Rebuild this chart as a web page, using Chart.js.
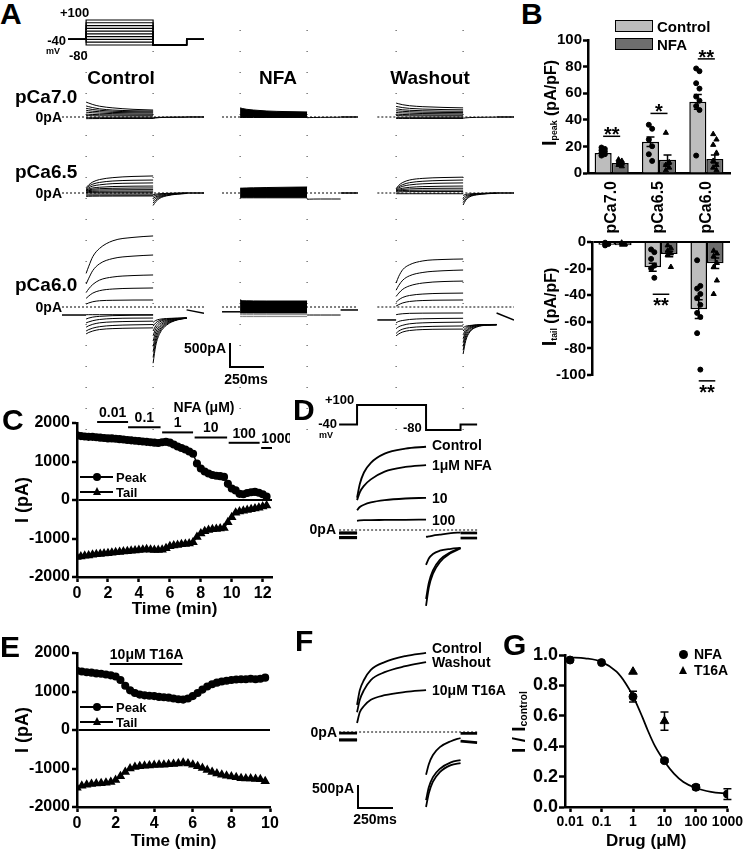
<!DOCTYPE html>
<html>
<head>
<meta charset="utf-8">
<title>NFA and T16A block of Ca-activated currents</title>
<script src="https://cdn.jsdelivr.net/npm/chart.js@4.4.1/dist/chart.umd.min.js"></script>
<style>
  html, body { margin: 0; padding: 0; background: #fff; }
  #fig { position: relative; width: 745px; height: 852px; overflow: hidden;
         font-family: "Liberation Sans", Arial, sans-serif; font-weight: bold; color: #000; }
  #fig canvas { position: absolute; }
  .t { position: absolute; white-space: nowrap; line-height: 1; }
  .ln { position: absolute; background: #000; }
  .box { position: absolute; box-sizing: border-box; border: 1.5px solid #000; }
  .dot { position: absolute; background: #000; border-radius: 50%; }
  .tri { position: absolute; width: 0; height: 0; border-left: 4.5px solid transparent;
         border-right: 4.5px solid transparent; border-bottom: 8px solid #000; }
  sub { font-size: 0.55em; vertical-align: -0.2em; }
</style>
</head>
<body>
<div id="fig"></div>
<script>
// ---------- panel A / D / F : protocol and current families ----------
const stepVoltages = [-80, -60, -40, -20, 0, 20, 40, 60, 80, 100]; // mV
const pulseT = [0, 20, 50, 100, 200, 350, 500];                    // ms
const tailT = [500, 520, 550, 600, 680, 750];
const postT = [750, 880];

// pCa 7.0 (pA)
const ctl70Pulse = [
  [310, 290, 260, 225, 190, 160, 145], [230, 215, 195, 170, 145, 130, 125],
  [180, 170, 155, 140, 120, 110, 105], [140, 130, 120, 110, 95, 88, 85],
  [100, 95, 88, 80, 70, 63, 60], [60, 57, 53, 48, 44, 41, 40],
  [30, 28, 26, 24, 22, 21, 20], [-15, -15, -15, -15, -15, -15, -15],
  [-35, -34, -33, -32, -31, -30, -30]
];
const ctl70Tail = [[-30, -20, -12, -8, -5, -3], [-15, -10, -6, -4, -2, -1]];
const nfa70Top = [190, 175, 160, 145, 125, 112, 105];
const nfa70Bottom = [-10, -10, -10, -10, -10, -10, -10];
const nfa70Tail = [[-15, -12, -10, -8, -6, -5]];
const wsh70Pulse = [
  [290, 275, 255, 235, 215, 200, 190], [220, 210, 195, 180, 165, 155, 150],
  [170, 162, 150, 140, 130, 122, 120], [130, 125, 118, 110, 100, 95, 92],
  [95, 90, 85, 80, 72, 68, 65], [60, 57, 53, 48, 44, 41, 40],
  [30, 28, 26, 24, 22, 21, 20], [-15, -15, -15, -15, -15, -15, -15],
  [-30, -30, -30, -30, -30, -30, -30]
];
const wsh70Tail = [[-25, -18, -12, -8, -5, -3]];

// pCa 6.5 (pA)
const ctl65Pulse = [
  [110, 170, 230, 280, 320, 345, 355], [90, 140, 185, 220, 250, 265, 270],
  [70, 110, 145, 170, 195, 205, 210], [60, 85, 105, 120, 135, 142, 145],
  [50, 65, 80, 90, 98, 103, 105], [40, 50, 58, 63, 67, 69, 70],
  [25, 30, 34, 37, 39, 40, 40], [10, 12, 13, 14, 15, 15, 15],
  [-20, -20, -20, -20, -20, -20, -20], [-45, -45, -45, -45, -45, -45, -45],
  [-70, -68, -66, -65, -64, -63, -62]
];
const ctl65Tail = [
  [-260, -180, -110, -60, -25, -10], [-210, -145, -90, -50, -20, -8],
  [-160, -110, -70, -40, -15, -5], [-110, -80, -50, -25, -10, -4],
  [-70, -50, -30, -15, -6, -2], [-35, -25, -15, -8, -3, 0]
];
const nfa65Top = [100, 102, 105, 108, 114, 120, 125];
const nfa65Bottom = [-100, -100, -100, -100, -100, -100, -100];
const nfa65Tail = [[-130, -128, -126, -125, -125, -125]];
const wsh65Pulse = [
  [90, 160, 220, 270, 305, 322, 330], [80, 130, 175, 215, 245, 262, 270],
  [65, 105, 140, 168, 192, 205, 210], [55, 80, 100, 118, 133, 141, 145],
  [45, 60, 75, 85, 94, 98, 100], [35, 45, 52, 56, 59, 60, 60],
  [20, 24, 27, 29, 30, 30, 30], [-15, -15, -15, -15, -15, -15, -15]
];
const wsh65Tail = [
  [-250, -150, -80, -40, -15, -5], [-200, -120, -65, -30, -12, -4],
  [-150, -90, -50, -25, -10, -3], [-100, -60, -35, -18, -7, -2],
  [-50, -30, -18, -10, -4, -1]
];

// pCa 6.0 (pA)
const ctl60Hold = -167;
const ctl60Pulse = [
  [700, 850, 1050, 1220, 1380, 1450, 1480], [480, 600, 760, 900, 1010, 1060, 1083],
  [300, 380, 470, 560, 625, 655, 667], [180, 230, 290, 340, 375, 390, 396],
  [60, 85, 110, 130, 140, 145, 146], [-160, -160, -160, -160, -160, -160, -160],
  [-250, -230, -210, -195, -180, -172, -170], [-330, -310, -285, -260, -240, -232, -230],
  [-420, -390, -360, -330, -310, -300, -295], [-500, -470, -440, -410, -385, -372, -365],
  [-560, -530, -500, -470, -450, -440, -435]
];
const ctl60Tail = [
  [-1170, -800, -550, -380, -270, -235], [-1050, -730, -510, -360, -265, -233],
  [-930, -660, -470, -340, -260, -232], [-820, -590, -430, -320, -255, -231],
  [-710, -520, -390, -300, -250, -230], [-600, -450, -350, -280, -245, -230],
  [-500, -390, -310, -265, -240, -229], [-400, -330, -280, -250, -235, -228],
  [-320, -280, -255, -240, -232, -228]
];
const ctl60Post = [[-60, -130]];
const nfa60Hold = -100;
const nfa60Top = [150, 130, 128, 126, 125, 125, 125];
const nfa60Bottom = [-125, -125, -125, -125, -125, -125, -125];
const nfa60Gray = [[-160, -160, -160, -160, -160, -160, -160], [-200, -200, -200, -200, -200, -200, -200]];
const nfa60Tail = [[-167, -167, -167, -167, -167, -167]];
const nfa60Post = [[-62, -62]];
const wsh60Hold = -270;
const wsh60Pulse = [
  [500, 640, 780, 880, 960, 990, 1000], [350, 450, 560, 650, 720, 755, 770],
  [220, 290, 370, 440, 500, 530, 540], [100, 150, 200, 240, 270, 285, 290],
  [20, 50, 85, 115, 135, 143, 146], [-160, -150, -140, -132, -128, -126, -125],
  [-330, -300, -280, -260, -245, -238, -235], [-450, -410, -380, -350, -330, -320, -315],
  [-550, -500, -460, -430, -410, -400, -395], [-600, -560, -520, -490, -470, -462, -460]
];
const wsh60Tail = [
  [-980, -700, -520, -420, -380, -375], [-900, -650, -500, -410, -378, -372],
  [-820, -600, -470, -400, -375, -370], [-740, -550, -450, -390, -372, -368],
  [-660, -510, -430, -385, -370, -366], [-580, -470, -410, -380, -368, -365],
  [-500, -430, -395, -375, -366, -364], [-430, -400, -385, -372, -365, -363]
];
const wsh60Post = [[-125, -270]];

// panel D: NFA concentration series (pA)
const dHold = [-170, -160, -70, -60];
const dPulse = [
  [700, 1000, 1250, 1460, 1660, 1770, 1810],
  [650, 820, 960, 1100, 1270, 1370, 1410],
  [430, 500, 550, 600, 650, 685, 700],
  [200, 210, 215, 215, 220, 222, 225]
];
const dTail = [
  [-1650, -1250, -950, -700, -500, -400],
  [-1500, -1150, -880, -650, -480, -390],
  [-760, -620, -520, -450, -410, -390],
  [-150, -140, -120, -100, -70, -50]
];
const dPost = [[-65, -65], [-175, -175]];

// panel F: T16A (pA)
const fHold = [-175, -170, -25];
const fPulse = [
  [590, 910, 1130, 1350, 1520, 1650, 1720],
  [430, 700, 910, 1130, 1300, 1430, 1520],
  [195, 430, 565, 700, 800, 870, 910]
];
const fTail = [
  [-1630, -1330, -1080, -870, -720, -675],
  [-1480, -1200, -980, -800, -660, -610],
  [-930, -700, -500, -330, -200, -130]
];
const fPost = [[-30, -30], [-200, -230]];

// ---------- panel B ----------
const pcaLabels = ['pCa7.0', 'pCa6.5', 'pCa6.0'];
const ctlPeakMean = [15, 23.5, 53.5];
const ctlPeakSem = [1.5, 3.5, 5.5];
const nfaPeakMean = [7.5, 10, 10.5];
const nfaPeakSem = [1, 3.5, 3];
const ctlPeakDots = [[19, 18, 17, 16, 15, 14, 13], [36, 33, 25, 20, 14, 9], [78, 76, 67, 63, 57, 54, 50, 47, 13]];
const nfaPeakDots = [[10, 9, 8, 7, 6, 5], [30, 8, 6, 4, 2], [29, 25, 21, 15, 9, 6, 4, 2]];
const ctlTailMean = [-2, -19, -50.5];
const ctlTailSem = [0.5, 3, 7];
const nfaTailMean = [-2.5, -9, -16];
const nfaTailSem = [0.5, 2, 4];
const ctlTailDots = [[-2, -3, -4], [-7, -9, -14, -19, -21, -28], [-15, -34, -36, -40, -43, -48, -54, -57, -69, -96]];
const nfaTailDots = [[-2, -3], [-4, -6, -8, -10, -11, -20], [-8, -10, -12, -17, -20, -30, -40]];
const peakSigCats = [0, 1, 2];
const peakSigLevel = [27.6, 44.8, 85.8];
const peakSigMark = ['**', '*', '**'];
const tailSigCats = [1, 2];
const tailSigLevel = [-39.3, -104.4];
const tailSigMark = ['**', '**'];

// ---------- panel C ----------
const cTime = [0, 0.25, 0.5, 0.75, 1, 1.25, 1.5, 1.75, 2, 2.25, 2.5, 2.75, 3, 3.25, 3.5, 3.75, 4, 4.25, 4.5, 4.75,
  5, 5.25, 5.5, 5.75, 6, 6.25, 6.5, 6.75, 7, 7.25, 7.5, 7.75, 8, 8.25, 8.5, 8.75, 9, 9.25, 9.5, 9.75,
  10, 10.25, 10.5, 10.75, 11, 11.25, 11.5, 11.75, 12, 12.25];
const cPeak = [1680, 1660, 1650, 1640, 1640, 1630, 1620, 1610, 1600, 1600,
  1590, 1580, 1570, 1560, 1550, 1540, 1530, 1520, 1510, 1500,
  1490, 1480, 1500, 1510, 1490, 1440, 1390, 1350, 1310, 1260,
  1200, 950, 820, 740, 690, 650, 630, 620, 600, 420,
  300, 250, 160, 150, 180, 200, 210, 190, 150, 90];
const cTail = [-1480, -1470, -1450, -1440, -1420, -1410, -1400, -1390, -1380, -1370,
  -1360, -1350, -1340, -1330, -1320, -1310, -1300, -1290, -1280, -1290,
  -1300, -1300, -1290, -1250, -1200, -1180, -1170, -1150, -1140, -1130,
  -1100, -960, -870, -810, -780, -760, -750, -740, -730, -580,
  -450, -330, -300, -280, -260, -240, -220, -200, -170, -140];
const nfaConc = ['0.01', '0.1', '1', '10', '100', '1000'];
const nfaStart = [1.3, 3.3, 5.5, 7.6, 9.8, 11.9];
const nfaEnd = [3.3, 5.4, 7.5, 9.7, 11.8, 12.6];

// ---------- panel E ----------
const eTime = [0, 0.25, 0.5, 0.75, 1, 1.25, 1.5, 1.75, 2, 2.25, 2.5, 2.75, 3, 3.25, 3.5, 3.75, 4, 4.25, 4.5, 4.75,
  5, 5.25, 5.5, 5.75, 6, 6.25, 6.5, 6.75, 7, 7.25, 7.5, 7.75, 8, 8.25, 8.5, 8.75, 9, 9.25, 9.5, 9.75];
const ePeak = [1540, 1520, 1500, 1490, 1470, 1460, 1440, 1420, 1390, 1300,
  1150, 1030, 960, 920, 900, 890, 880, 860, 850, 840,
  820, 800, 790, 820, 880, 960, 1050, 1130, 1190, 1230,
  1260, 1280, 1300, 1310, 1320, 1320, 1330, 1320, 1330, 1360];
const eTail = [-1500, -1450, -1420, -1400, -1390, -1380, -1370, -1350, -1300, -1200,
  -1090, -1000, -960, -940, -930, -920, -910, -900, -900, -890,
  -880, -870, -850, -870, -900, -940, -990, -1040, -1090, -1130,
  -1160, -1190, -1210, -1230, -1250, -1260, -1260, -1270, -1280, -1330];
const t16aLabel = ['10μM T16A'];
const t16aStart = [1.7];
const t16aEnd = [5.45];

// ---------- panel G ----------
const gDoseTicks = [0.01, 0.1, 1, 10, 100, 1000];
const gDoseNfa = [0.01, 0.1, 1, 10, 100, 1000];
const gRespNfa = [0.967, 0.95, 0.726, 0.305, 0.13, 0.085];
const gSemNfa = [0, 0, 0.035, 0.01, 0.015, 0.035];
const gDoseT16a = [1, 10];
const gRespT16a = [0.89, 0.565];
const gSemT16a = [0, 0.06];
const gFitDose = [0.01, 0.03, 0.1, 0.3, 0.6, 1, 2, 3, 5, 10, 20, 40, 100, 300, 1000];
const gFitResp = [0.985, 0.978, 0.955, 0.89, 0.81, 0.73, 0.59, 0.5, 0.4, 0.3, 0.22, 0.165, 0.125, 0.1, 0.088];

// ---------- helpers ----------
const FONT = '"Liberation Sans", Arial, sans-serif';
Chart.defaults.font.family = FONT;
Chart.defaults.font.weight = 'bold';
Chart.defaults.color = '#000';
Chart.defaults.animation = false;
Chart.defaults.responsive = false;
Chart.defaults.events = [];
Chart.defaults.plugins.legend.display = false;
Chart.defaults.plugins.tooltip.enabled = false;

const fig = document.getElementById('fig');

function addCanvas(left, top, w, h) {
  const c = document.createElement('canvas');
  c.width = w;
  c.height = h;
  c.style.left = left + 'px';
  c.style.top = top + 'px';
  fig.appendChild(c);
  return c;
}

function addText(html, x, y, size, align, extra) {
  const d = document.createElement('div');
  d.className = 't';
  d.innerHTML = html;
  d.style.left = x + 'px';
  d.style.top = y + 'px';
  d.style.fontSize = size + 'px';
  const tx = align === 'c' ? '-50%' : (align === 'r' ? '-100%' : '0');
  d.style.transform = 'translate(' + tx + ',-50%)' + (extra || '');
  fig.appendChild(d);
  return d;
}

function addEl(cls, x, y, w, h) {
  const d = document.createElement('div');
  d.className = cls;
  d.style.left = x + 'px';
  d.style.top = y + 'px';
  if (w !== undefined) d.style.width = w + 'px';
  if (h !== undefined) d.style.height = h + 'px';
  fig.appendChild(d);
  return d;
}

function pts(times, vals) {
  return times.map((t, i) => ({ x: t, y: vals[i] }));
}

function seg(data, width, color, extra) {
  return Object.assign({ data: data, showLine: true, pointRadius: 0, borderColor: color || '#000',
    borderWidth: width || 1, fill: false, tension: 0 }, extra || {});
}

function curve(data, width, color, extra) {
  return seg(data, width, color, Object.assign({ cubicInterpolationMode: 'monotone' }, extra || {}));
}

function familySets(o) {
  const lw = o.lw || 1;
  const sets = [];
  sets.push(seg([{ x: o.from, y: 0 }, { x: o.to, y: 0 }], 1, '#000', { borderDash: [2, 2] }));
  (o.hold || []).forEach(h => sets.push(seg([{ x: o.from, y: h }, { x: 0, y: h }], 1.5 * lw)));
  if (o.blockTop) {
    sets.push(curve(pts(pulseT, o.blockTop), 1, '#000', { fill: '+1', backgroundColor: '#000' }));
    sets.push(curve(pts(pulseT, o.blockBottom), 1));
  }
  (o.pulse || []).forEach(v => sets.push(curve(pts(pulseT, v), lw)));
  (o.gray || []).forEach(v => sets.push(curve(pts(pulseT, v), lw, '#808080')));
  (o.tail || []).forEach(v => sets.push(curve(pts(tailT, v), lw)));
  (o.post || []).forEach(v => sets.push(seg(pts(o.postT || postT, v), 1.5 * lw)));
  return sets;
}

function traceChart(left, top, w, h, xr, yr, sets) {
  return new Chart(addCanvas(left, top, w, h), {
    type: 'scatter',
    data: { datasets: sets },
    options: {
      layout: { padding: 0 },
      scales: {
        x: { type: 'linear', display: false, min: xr[0], max: xr[1] },
        y: { type: 'linear', display: false, min: yr[0], max: yr[1] }
      }
    }
  });
}

function protocolSets(volts, from, to, lw) {
  return volts.map(v => seg([
    { x: from, y: -40 }, { x: 0, y: -40 }, { x: 0, y: v }, { x: 500, y: v },
    { x: 500, y: -80 }, { x: 750, y: -80 }, { x: 750, y: -40 }, { x: to, y: -40 }
  ], lw || 1.2));
}

// error bars drawn from the datasets' own scales
const errorBars = {
  id: 'errorBars',
  afterDatasetsDraw(chart) {
    const ctx = chart.ctx;
    chart.data.datasets.forEach((ds, i) => {
      if (!ds.errors) return;
      const meta = chart.getDatasetMeta(i);
      const ys = chart.scales[meta.yAxisID];
      meta.data.forEach((el, j) => {
        const err = ds.errors[j];
        if (!err) return;
        const raw = ds.data[j];
        const v = typeof raw === 'object' ? raw.y : raw;
        const y1 = ys.getPixelForValue(v + err);
        const y2 = ys.getPixelForValue(v - err);
        const cap = 4;
        ctx.save();
        ctx.strokeStyle = '#000';
        ctx.lineWidth = 1.5;
        ctx.beginPath();
        ctx.moveTo(el.x, y1); ctx.lineTo(el.x, y2);
        ctx.moveTo(el.x - cap, y1); ctx.lineTo(el.x + cap, y1);
        ctx.moveTo(el.x - cap, y2); ctx.lineTo(el.x + cap, y2);
        ctx.stroke();
        ctx.restore();
      });
    });
  }
};

// significance lines between the two bars of a group
const sigMarks = {
  id: 'sigMarks',
  afterDatasetsDraw(chart, args, opts) {
    if (!opts.cats) return;
    const ctx = chart.ctx;
    const ys = chart.scales.y;
    const m0 = chart.getDatasetMeta(0), m1 = chart.getDatasetMeta(1);
    ctx.save();
    ctx.strokeStyle = '#000';
    ctx.fillStyle = '#000';
    ctx.lineWidth = 1.5;
    ctx.font = 'bold 20px ' + FONT;
    ctx.textAlign = 'center';
    ctx.textBaseline = 'alphabetic';
    opts.cats.forEach((c, i) => {
      const y = ys.getPixelForValue(opts.levels[i]);
      const x0 = m0.data[c].x, x1 = m1.data[c].x;
      ctx.beginPath(); ctx.moveTo(x0, y); ctx.lineTo(x1, y); ctx.stroke();
      ctx.fillText(opts.marks[i], (x0 + x1) / 2, opts.below ? y + 18 : y + 5);
    });
    ctx.restore();
  }
};

// drug application bars above a time course
const drugBars = {
  id: 'drugBars',
  afterDraw(chart, args, opts) {
    if (!opts.starts) return;
    const ctx = chart.ctx;
    const xs = chart.scales.x;
    const top = chart.chartArea.top;
    ctx.save();
    ctx.strokeStyle = '#000';
    ctx.fillStyle = '#000';
    ctx.lineWidth = 2;
    ctx.font = 'bold 14px ' + FONT;
    ctx.textBaseline = 'middle';
    opts.starts.forEach((s, i) => {
      const y = top + opts.first + i * opts.step;
      const x0 = xs.getPixelForValue(s), x1 = xs.getPixelForValue(opts.ends[i]);
      ctx.beginPath(); ctx.moveTo(x0, y); ctx.lineTo(x1, y); ctx.stroke();
      const w = ctx.measureText(opts.labels[i]).width;
      if (w > x1 - x0) { ctx.textAlign = 'left'; ctx.fillText(opts.labels[i], x0, y - 9); }
      else { ctx.textAlign = 'center'; ctx.fillText(opts.labels[i], (x0 + x1) / 2, y - 9); }
    });
    ctx.restore();
  }
};

function axisBorder() { return { display: true, color: '#000', width: 2.5 }; }
function tickGrid() { return { drawOnChartArea: false, drawTicks: true, tickLength: 5, tickWidth: 2.5, tickColor: '#000' }; }
function zeroGrid() {
  return { drawOnChartArea: true, drawTicks: true, tickLength: 5, tickWidth: 2.5, tickColor: '#000',
    color: c => (c.tick && c.tick.value === 0 ? '#000' : 'rgba(0,0,0,0)'), lineWidth: 2 };
}

// ---------- panel A ----------
const A_PX_PER_PA = 0.048;
const aX = [-180, 880];
const aColLeft = [62, 216, 372];
const aFrom = [-180, -135, -140];
const aRows = [{ top: 95, h: 45, zero: 117 }, { top: 165, h: 50, zero: 193 }, { top: 228, h: 142, zero: 307 }];
const aCells = [
  [{ pulse: ctl70Pulse, tail: ctl70Tail, post: [[0, 0]] },
   { blockTop: nfa70Top, blockBottom: nfa70Bottom, tail: nfa70Tail, post: [[0, 0]] },
   { pulse: wsh70Pulse, tail: wsh70Tail, post: [[0, 0]] }],
  [{ pulse: ctl65Pulse, tail: ctl65Tail, post: [[0, 0]] },
   { blockTop: nfa65Top, blockBottom: nfa65Bottom, tail: nfa65Tail, post: [[0, 0]] },
   { pulse: wsh65Pulse, tail: wsh65Tail, post: [[0, 0]] }],
  [{ hold: [ctl60Hold], pulse: ctl60Pulse, tail: ctl60Tail, post: ctl60Post },
   { hold: [nfa60Hold], blockTop: nfa60Top, blockBottom: nfa60Bottom, gray: nfa60Gray, tail: nfa60Tail, post: nfa60Post },
   { hold: [wsh60Hold], pulse: wsh60Pulse, tail: wsh60Tail, post: wsh60Post }]
];

// voltage protocol
traceChart(62, 14, 142, 36, aX, [-116, 143], protocolSets(stepVoltages, -135, 880));

// capacitive artefact marks at pulse on/off
aColLeft.forEach(left => {
  traceChart(left, 25, 142, 405, aX, [0, 1], [0, 500].map(t =>
    seg([{ x: t, y: 0 }, { x: t, y: 1 }], 1, '#333', { borderDash: [1, 20] })));
});

aRows.forEach((r, ri) => {
  const yr = [-(r.top + r.h - r.zero) / A_PX_PER_PA, (r.zero - r.top) / A_PX_PER_PA];
  aColLeft.forEach((left, ci) => {
    const cell = Object.assign({ from: aFrom[ci], to: aX[1] }, aCells[ri][ci]);
    traceChart(left, r.top, 142, r.h, aX, yr, familySets(cell));
  });
});

// ---------- panel D / F ----------
const DF_PX_PER_PA = 0.046;
const dfX = [-138, 891];
traceChart(338, 399, 142, 36, dfX, [-116, 143], protocolSets([100], -130, 870, 2));
traceChart(338, 438, 142, 177, dfX, [-(615 - 530) / DF_PX_PER_PA, (530 - 438) / DF_PX_PER_PA],
  familySets({ from: -130, to: 870, lw: 1.8, hold: dHold, pulse: dPulse, tail: dTail, post: dPost, postT: [750, 870] }));
traceChart(338, 640, 142, 175, dfX, [-(815 - 732) / DF_PX_PER_PA, (732 - 640) / DF_PX_PER_PA],
  familySets({ from: -130, to: 870, lw: 1.8, hold: fHold, pulse: fPulse, tail: fTail, post: fPost, postT: [750, 870] }));

// ---------- panel B ----------
function barSets(ctlMean, ctlSem, nfaMean, nfaSem) {
  return [
    { label: 'Control', data: ctlMean, errors: ctlSem, backgroundColor: '#bdbdbd', borderColor: '#000',
      borderWidth: 1.5, categoryPercentage: 0.72, barPercentage: 1 },
    { label: 'NFA', data: nfaMean, errors: nfaSem, backgroundColor: '#6e6e6e', borderColor: '#000',
      borderWidth: 1.5, categoryPercentage: 0.72, barPercentage: 1 }
  ];
}

function dotData(groups, off) {
  const out = [];
  groups.forEach((vals, i) => vals.forEach((v, k) => out.push({ x: i + off + (k % 2 ? 0.035 : -0.035), y: v })));
  return out;
}

// individual cells, drawn on a scatter layer that shares the bar plot's area
function dotLayer(area, yr, ctlDots, nfaDots) {
  const pad = 10;
  return new Chart(addCanvas(area.left - pad, area.top - pad, area.w + 2 * pad, area.h + 2 * pad), {
    type: 'scatter',
    data: { datasets: [
      { data: dotData(ctlDots, -0.18), pointStyle: 'circle', pointRadius: 2.5,
        backgroundColor: '#000', borderColor: '#000', clip: false },
      { data: dotData(nfaDots, 0.18), pointStyle: 'triangle', pointRadius: 3,
        backgroundColor: '#000', borderColor: '#000', clip: false }
    ] },
    options: {
      layout: { padding: pad },
      scales: {
        x: { type: 'linear', display: false, min: -0.5, max: 2.5 },
        y: { type: 'linear', display: false, min: yr[0], max: yr[1] }
      }
    }
  });
}

new Chart(addCanvas(530, 30, 215, 210), {
  type: 'bar',
  data: { labels: pcaLabels, datasets: barSets(ctlPeakMean, ctlPeakSem, nfaPeakMean, nfaPeakSem) },
  options: {
    layout: { padding: { top: 9, right: 15, left: 0, bottom: 0 } },
    scales: {
      x: { offset: true, border: axisBorder(), grid: { drawOnChartArea: false, drawTicks: false },
           ticks: { minRotation: 90, maxRotation: 90, padding: 8, font: { size: 16 } },
           afterFit: s => { s.height = 67; } },
      y: { min: 0, max: 100, border: axisBorder(), grid: tickGrid(),
           ticks: { stepSize: 20, padding: 1, font: { size: 15 } },
           afterFit: s => { s.width = 58; } }
    },
    plugins: { sigMarks: { cats: peakSigCats, levels: peakSigLevel, marks: peakSigMark, below: false } }
  },
  plugins: [errorBars, sigMarks]
});
dotLayer({ left: 588, top: 39, w: 142, h: 134 }, [0, 100], ctlPeakDots, nfaPeakDots);

new Chart(addCanvas(530, 232, 215, 170), {
  type: 'bar',
  data: { labels: pcaLabels, datasets: barSets(ctlTailMean, ctlTailSem, nfaTailMean, nfaTailSem) },
  options: {
    layout: { padding: { top: 8, right: 15, left: 0, bottom: 27 } },
    scales: {
      x: { display: false, offset: true },
      y: { min: -100, max: 0, border: axisBorder(), grid: zeroGrid(),
           ticks: { stepSize: 20, padding: 1, font: { size: 15 } },
           afterFit: s => { s.width = 62; } }
    },
    plugins: { sigMarks: { cats: tailSigCats, levels: tailSigLevel, marks: tailSigMark, below: true } }
  },
  plugins: [errorBars, sigMarks]
});
dotLayer({ left: 592, top: 240, w: 138, h: 135 }, [-100, 0], ctlTailDots, nfaTailDots);

// ---------- panels C / E ----------
function timeCourse(left, top, w, h, o) {
  return new Chart(addCanvas(left, top, w, h), {
    type: 'scatter',
    data: { datasets: [
      { data: pts(o.time, o.peak), showLine: true, borderColor: '#000', backgroundColor: '#000',
        borderWidth: 1.5, pointStyle: 'circle', pointRadius: 3.3 },
      { data: pts(o.time, o.tail), showLine: true, borderColor: '#000', backgroundColor: '#000',
        borderWidth: 1.5, pointStyle: 'triangle', pointRadius: 4 }
    ] },
    options: {
      layout: { padding: { top: o.padTop, right: o.padRight, left: 0, bottom: 0 } },
      scales: {
        x: { type: 'linear', min: 0, max: o.xMax, border: axisBorder(), grid: tickGrid(),
             ticks: { stepSize: 2, includeBounds: false, padding: 2, font: { size: 16 } },
             title: { display: true, text: 'Time (min)', font: { size: 17 }, padding: { top: 0, bottom: o.titlePad } },
             afterFit: s => { s.height = o.xH; } },
        y: { min: -2000, max: 2000, border: axisBorder(), grid: zeroGrid(),
             ticks: { stepSize: 1000, padding: 2, font: { size: 16 }, callback: v => String(v) },
             title: { display: true, text: 'I (pA)', font: { size: 18 }, padding: { top: 12, bottom: 0 } },
             afterFit: s => { s.width = 77; } }
      },
      plugins: { drugBars: o.bars }
    },
    plugins: [drugBars]
  });
}

timeCourse(0, 400, 290, 225, { time: cTime, peak: cPeak, tail: cTail, xMax: 12.6, padTop: 23, padRight: 18,
  xH: 48, titlePad: 5, bars: { starts: nfaStart, ends: nfaEnd, labels: nfaConc, first: -1, step: 5.2 } });
timeCourse(0, 640, 290, 212, { time: eTime, peak: ePeak, tail: eTail, xMax: 10, padTop: 13, padRight: 20,
  xH: 45, titlePad: 0, bars: { starts: t16aStart, ends: t16aEnd, labels: t16aLabel, first: 11, step: 0 } });

// ---------- panel G ----------
new Chart(addCanvas(490, 640, 255, 212), {
  type: 'scatter',
  data: { datasets: [
    { data: pts(gFitDose, gFitResp), showLine: true, pointRadius: 0, borderColor: '#000', borderWidth: 1.8,
      cubicInterpolationMode: 'monotone' },
    { data: pts(gDoseNfa, gRespNfa), errors: gSemNfa, pointStyle: 'circle', pointRadius: 4,
      backgroundColor: '#000', borderColor: '#000' },
    { data: pts(gDoseT16a, gRespT16a), errors: gSemT16a, pointStyle: 'triangle', pointRadius: 5,
      backgroundColor: '#000', borderColor: '#000' }
  ] },
  options: {
    layout: { padding: { top: 15, right: 17, left: 0, bottom: 0 } },
    scales: {
      x: { type: 'logarithmic', min: 0.0069, max: 1000, border: axisBorder(), grid: tickGrid(),
           afterBuildTicks: s => { s.ticks = gDoseTicks.map(v => ({ value: v })); },
           ticks: { autoSkip: false, maxRotation: 0, padding: 2, font: { size: 14 }, callback: v => String(v) },
           title: { display: true, text: 'Drug (μM)', font: { size: 17 }, padding: { top: 0, bottom: 0 } },
           afterFit: s => { s.height = 45; } },
      y: { min: 0, max: 1, border: axisBorder(), grid: Object.assign(tickGrid(), { tickLength: 6 }),
           ticks: { stepSize: 0.2, padding: 1, font: { size: 18 }, callback: v => v.toFixed(1) },
           afterFit: s => { s.width = 75; } }
    }
  },
  plugins: [errorBars]
});

// ---------- text and furniture ----------
[['A', 0, 14], ['B', 521, 14], ['C', 2, 420], ['D', 293, 410], ['E', 0, 647], ['F', 295, 641], ['G', 503, 645]]
  .forEach(p => addText(p[0], p[1], p[2], 30, 'l'));

// A protocol labels
addText('+100', 60, 12, 13, 'l');
addText('-40', 66, 40, 13, 'r');
addText('mV', 46, 51, 9, 'l');
addText('-80', 69, 55, 13, 'l');
// column and row labels
addText('Control', 121, 77, 19, 'c');
addText('NFA', 278, 77, 19, 'c');
addText('Washout', 430, 77, 19, 'c');
addText('pCa7.0', 15, 96, 19, 'l');
addText('pCa6.5', 15, 171, 19, 'l');
addText('pCa6.0', 15, 284, 19, 'l');
aRows.forEach(r => addText('0pA', 62, r.zero, 14, 'r'));
// A scale bar
addEl('ln', 229, 343, 2, 25);
addEl('ln', 229, 366, 35, 2);
addText('500pA', 226, 348, 14, 'r');
addText('250ms', 246, 379, 14, 'c');

// B legend and axis titles
addEl('box', 615, 20, 38, 12).style.background = '#bdbdbd';
addEl('box', 615, 38, 38, 12).style.background = '#6e6e6e';
addText('Control', 657, 26, 15, 'l');
addText('NFA', 657, 44, 15, 'l');
addText('<span style="font-size:20px">I</span><sub>peak</sub> (pA/pF)', 549, 103, 16, 'c', ' rotate(-90deg)');
addText('<span style="font-size:20px">I</span><sub>tail</sub> (pA/pF)', 549, 307, 16, 'c', ' rotate(-90deg)');

// C / E legends
addText('NFA (μM)', 204, 407, 14, 'c');
[[477, 492], [707, 722]].forEach(ys => {
  addEl('ln', 80, ys[0] - 1, 33, 1.5);
  addEl('dot', 93, ys[0] - 4, 8, 8);
  addText('Peak', 116, ys[0], 13, 'l');
  addEl('ln', 80, ys[1] - 1, 33, 1.5);
  addEl('tri', 92.5, ys[1] - 5);
  addText('Tail', 116, ys[1], 13, 'l');
});

// D labels
addText('+100', 325, 399, 13, 'l');
addText('-40', 337, 423, 13, 'r');
addText('mV', 319, 435, 9, 'l');
addText('-80', 403, 427, 13, 'l');
addText('Control', 432, 445, 14, 'l');
addText('1μM NFA', 432, 465, 14, 'l');
addText('10', 432, 498, 14, 'l');
addText('100', 432, 520, 14, 'l');
addText('0pA', 336, 529, 14, 'r');
// F labels
addText('Control', 432, 648, 14, 'l');
addText('Washout', 432, 662, 14, 'l');
addText('10μM T16A', 432, 690, 14, 'l');
addText('0pA', 337, 732, 14, 'r');
// D/F scale bar
addEl('ln', 357, 785, 2, 24);
addEl('ln', 357, 807, 36, 2);
addText('500pA', 354, 788, 14, 'r');
addText('250ms', 375, 819, 14, 'c');

// G legend and y title
addEl('dot', 679, 650, 9, 9);
addText('NFA', 694, 654, 14, 'l');
addEl('tri', 678.5, 666);
addText('T16A', 694, 670, 14, 'l');
addText('I / I<sub>control</sub>', 519, 722, 19, 'c', ' rotate(-90deg)');
</script>
</body>
</html>
